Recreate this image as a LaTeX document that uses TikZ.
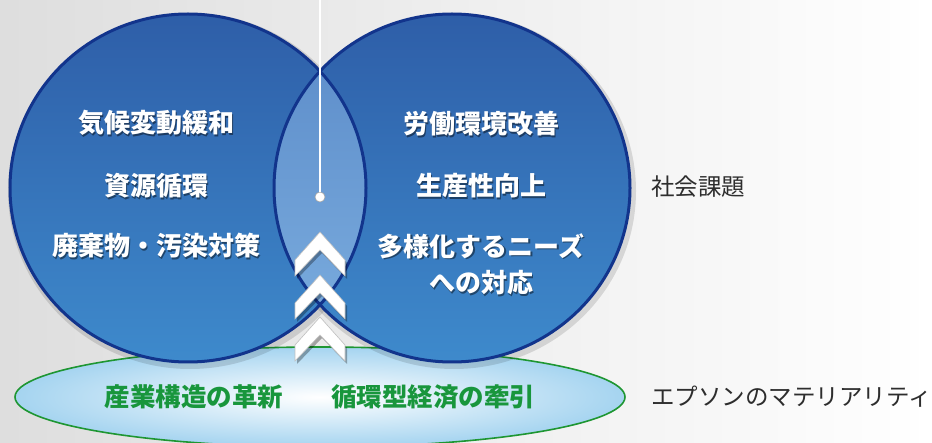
\documentclass[tikz,border=0pt]{standalone}
\usepackage{fontspec}
\setmainfont{Noto Sans CJK JP}
\usetikzlibrary{calc}
\definecolor{navy}{RGB}{18,52,140}
\definecolor{ctop}{RGB}{46,94,168}
\definecolor{cbot}{RGB}{62,138,204}
\definecolor{lenstop}{RGB}{90,138,200}
\definecolor{lensbot}{RGB}{125,175,224}
\definecolor{grn}{RGB}{24,150,60}
\definecolor{grnline}{RGB}{30,150,50}
\definecolor{lblue}{RGB}{165,212,240}
\definecolor{lbl}{RGB}{45,45,45}
\newcommand\shtxt[4]{%
  \node[wtxt,text=black,opacity=0.45] at (#2+1.5,#3+1.5) {#4};
  \node[wtxt] (#1) at (#2,#3) {#4};}
\begin{document}
\begin{tikzpicture}[x=1pt,y=-1pt,
  wtxt/.style={text=white,font=\fontsize{26}{30}\selectfont\bfseries,inner sep=0pt,align=center},
  gtxt/.style={text=grn,font=\fontsize{25.5}{30}\selectfont\bfseries,inner sep=0pt},
  rlabel/.style={text=lbl,font=\fontsize{23.5}{28}\selectfont,inner sep=0pt,anchor=west},
  chev/.style={fill=white,draw=black!25,line width=0.6pt}]
\useasboundingbox (0,0) rectangle (932,443);
\shade[left color=black!13,right color=white] (0,0) rectangle (932,443);
% green ellipse
\shade[inner color=white,outer color=lblue] (320,397) ellipse [x radius=305,y radius=50];
\draw[grnline,line width=1.6pt] (320,397) ellipse [x radius=305,y radius=50];
% circle glow
\fill[black,opacity=0.12] (190,191) ellipse [x radius=182,y radius=178];
\fill[black,opacity=0.12] (454,191) ellipse [x radius=182,y radius=178];
% circles
\shade[top color=ctop,bottom color=cbot] (188,188) ellipse [x radius=178,y radius=174];
\shade[top color=ctop,bottom color=cbot] (452,188) ellipse [x radius=178,y radius=174];
% lens
\begin{scope}
\clip (188,188) ellipse [x radius=178,y radius=174];
\shade[top color=lenstop,bottom color=lensbot] (452,188) ellipse [x radius=178,y radius=174];
\end{scope}
\draw[navy,line width=3pt] (188,188) ellipse [x radius=178,y radius=174];
\draw[navy,line width=3pt] (452,188) ellipse [x radius=178,y radius=174];
% chevrons
\foreach \t in {232,275,317}{
  \fill[black,opacity=0.3] (322,\t+3) -- ++(25,28) -- ++(0,16) -- ++(-25,-26) -- ++(-25,26) -- ++(0,-16) -- cycle;
  \draw[chev] (320,\t) -- ++(25,28) -- ++(0,16) -- ++(-25,-26) -- ++(-25,26) -- ++(0,-16) -- cycle;
}
% pointer line
\coordinate (ltop) at (320,0);
\node[circle,fill=white,draw=black!35,line width=0.6pt,minimum size=10pt,inner sep=0pt] (dot) at (320,197) {};
\draw[black!35,line width=2.6pt] (ltop) -- (dot.north);
\draw[white,line width=1.4pt] (ltop) -- (dot.north);
% texts
\shtxt{a1}{156}{123}{気候変動緩和}
\shtxt{a2}{156}{186}{資源循環}
\shtxt{a3}{156}{246}{廃棄物・汚染対策}
\shtxt{b1}{481}{124}{労働環境改善}
\shtxt{b2}{481}{186}{生産性向上}
\shtxt{b3}{481}{246}{多様化するニーズ}
\shtxt{b4}{481}{283}{への対応}
\node[gtxt] (g1) at (194,397) {産業構造の革新};
\node[gtxt] (g2) at (433,397) {循環型経済の牽引};
\node[rlabel] (r1) at (651,187) {社会課題};
\node[rlabel] (r2) at (651,397) {エプソンのマテリアリティ};
\end{tikzpicture}
\end{document}
